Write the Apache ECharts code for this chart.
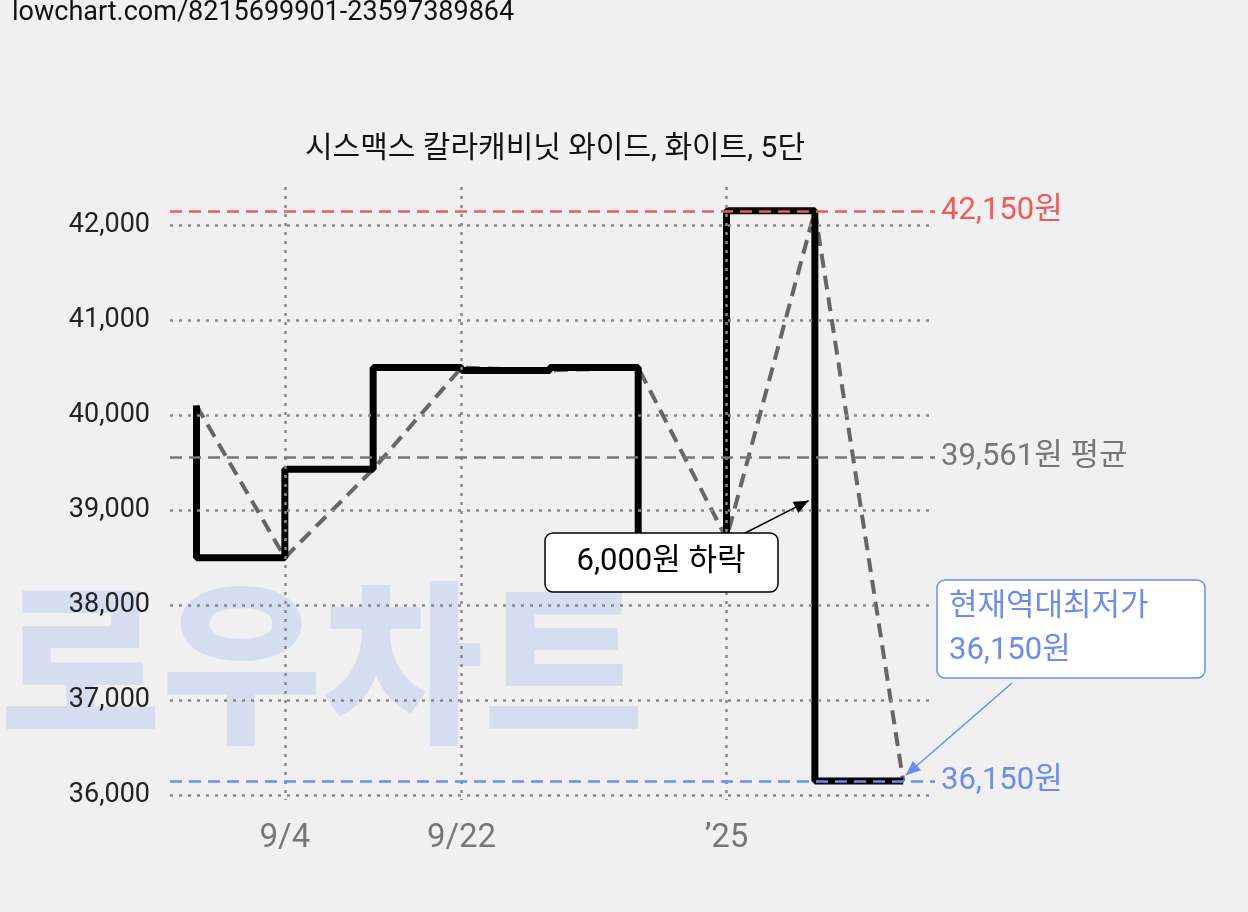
<!DOCTYPE html>
<html><head><meta charset="utf-8">
<script src="https://cdn.jsdelivr.net/npm/echarts@6/dist/echarts.min.js"></script>
<style>html,body{margin:0;background:#f0f0f0}#c{width:1248px;height:912px}</style>
</head><body><div id="c"></div>
<script>
const prices = [40100, 38500, 39430, 40500, 40470, 40500, 38700, 42150, 36150];
const xTickIdx = [1, 3, 6];
const xTickLabels = ['9/4', '9/22', '’25'];
const yTicks = [36000, 37000, 38000, 39000, 40000, 41000, 42000];
const maxPrice = 42150, avgPrice = 39561, minPrice = 36150;
const title = '시스맥스 칼라캐비닛 와이드, 화이트, 5단';
const font = 'Roboto, "Noto Sans CJK KR", sans-serif';

const chart = echarts.init(document.getElementById('c'));
const data = prices.map((v, i) => [i, v]);
const dotted = {type: [3, 6], color: '#888', width: 2.5};
const gridLines = yTicks.map(v => [{coord: [-0.3, v]}, {coord: [8.36, v]}])
  .concat(xTickIdx.map(i => [{coord: [i, 42400]}, {coord: [i, 35950]}]));
const refLine = (v, color, text) => [{coord: [-0.3, v], lineStyle: {color, type: [12, 7], width: 2.5},
  label: {show: true, position: 'end', formatter: text, color, fontSize: 31, fontFamily: font, distance: 6}},
  {coord: [8.36, v]}];
chart.setOption({
  backgroundColor: '#f0f0f0',
  animation: false,
  title: {text: title, left: 550, top: 130, textAlign: 'center',
    textStyle: {fontSize: 30, fontWeight: 'normal', color: '#111', fontFamily: font}},
  grid: {left: 170, right: 313, top: 187, bottom: 112},
  xAxis: {type: 'value', min: -0.3, max: 8.36, splitLine: {show: false}, axisLine: {show: false},
    axisTick: {show: false},
    axisLabel: {customValues: xTickIdx, fontSize: 33, margin: 22, fontFamily: font,
      formatter: v => xTickLabels[xTickIdx.indexOf(v)],
      color: v => v === 6 ? '#111' : '#777'}},
  yAxis: {type: 'value', min: 35950, max: 42400, splitLine: {show: false}, axisLine: {show: false},
    axisTick: {show: false},
    axisLabel: {customValues: yTicks, fontSize: 27, color: '#222', margin: 20, fontFamily: font,
      formatter: v => v.toLocaleString('en-US')}},
  series: [
    {type: 'line', data: [], z: 1, markLine: {symbol: 'none', silent: true, label: {show: false}, lineStyle: dotted, data: gridLines}},
    {type: 'line', data, symbol: 'none', z: 3, lineStyle: {color: '#666', width: 4, type: [14, 8]}},
    {type: 'line', data, step: 'start', symbol: 'none', z: 4, lineStyle: {color: '#000', width: 7},
      markLine: {symbol: 'none', silent: true, data: [
        refLine(maxPrice, '#f05a5a', '42,150원'),
        refLine(avgPrice, '#777', '39,561원 평균'),
        refLine(minPrice, '#6b8cf0', '36,150원')]}}
  ]
});
const p = (x, y) => chart.convertToPixel({gridIndex: 0}, [x, y]);
const a1s = p(6.15, 38730), a1e = p(6.93, 39100);
const a2e = p(8.03, minPrice + 60);
function arrow(s, e, color, w) {
  const ang = Math.atan2(e[1] - s[1], e[0] - s[0]), L = 16, W = 0.4;
  return [{type: 'line', z: 20, shape: {x1: s[0], y1: s[1], x2: e[0], y2: e[1]}, style: {stroke: color, lineWidth: w}},
    {type: 'polygon', z: 20, shape: {points: [e, [e[0] - L * Math.cos(ang - W), e[1] - L * Math.sin(ang - W)], [e[0] - L * Math.cos(ang + W), e[1] - L * Math.sin(ang + W)]]}, style: {fill: color}}];
}
chart.setOption({graphic: [
  {type: 'text', left: 12, top: 0, z: 10, style: {text: 'lowchart.com/8215699901-23597389864', fontSize: 27, fill: '#111', fontFamily: font}},
  {type: 'text', left: 0, top: 575, z: -10, silent: true, style: {text: '로우차트', fontSize: 175, fontWeight: 900, fill: '#d5ddf1', fontFamily: '"Noto Sans CJK KR"'}},
  ...arrow(a1s, a1e, '#000', 1.5),
  ...arrow([1012, 683], a2e, '#6b8cf0', 1.5),
  {type: 'rect', z: 21, shape: {x: 545, y: 533, width: 233, height: 59, r: 8}, style: {fill: '#fff', stroke: '#000', lineWidth: 1.5}},
  {type: 'text', z: 22, x: 661, y: 562, style: {text: '6,000원 하락', fontSize: 31, fill: '#000', fontFamily: font, align: 'center', verticalAlign: 'middle'}},
  {type: 'rect', z: 21, shape: {x: 937, y: 580, width: 268, height: 98, r: 8}, style: {fill: '#fff', stroke: '#6b8cf0', lineWidth: 1.5}},
  {type: 'text', z: 22, x: 949, y: 585, style: {text: '현재역대최저가\n36,150원', fontSize: 31, lineHeight: 44, fill: '#6b8cf0', fontFamily: font}}
]});
</script></body></html>
